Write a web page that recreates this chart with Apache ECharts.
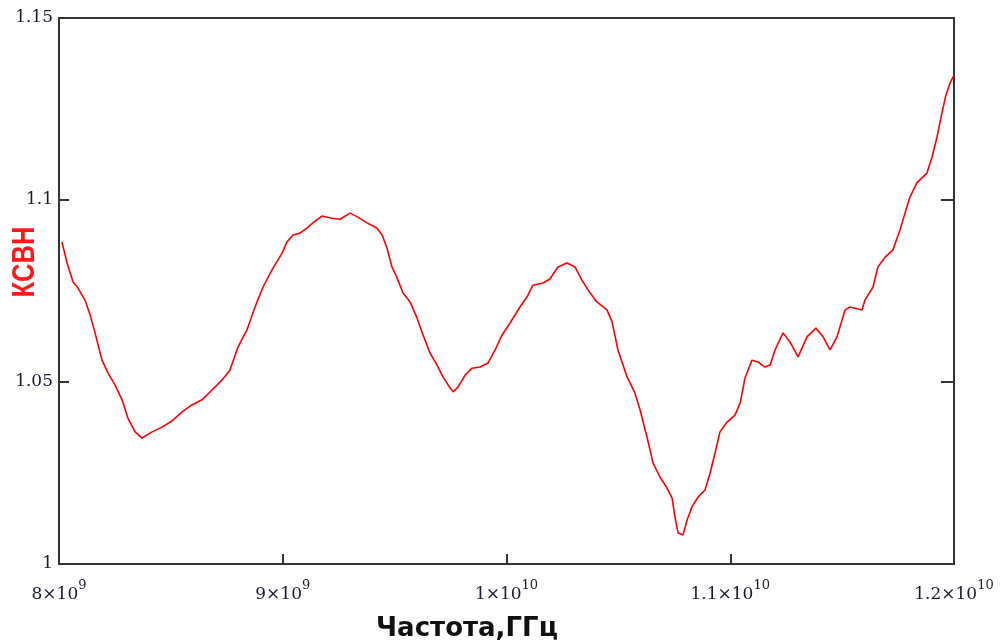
<!DOCTYPE html>
<html>
<head>
<meta charset="utf-8">
<script src="https://cdn.jsdelivr.net/npm/echarts@6/dist/echarts.min.js"></script>
<style>
  html, body { margin: 0; padding: 0; background: #fff; }
  #chart { width: 1006px; height: 643px; }
</style>
</head>
<body>
<div id="chart"></div>
<script>
// частота, ГГц
var freqGHz = [
  8.013, 8.036, 8.063, 8.085, 8.116, 8.139, 8.161, 8.192, 8.219, 8.250,
  8.282, 8.308, 8.340, 8.371, 8.416, 8.460, 8.505, 8.550, 8.594, 8.639,
  8.684, 8.728, 8.764, 8.800, 8.840, 8.876, 8.912, 8.952, 8.997, 9.019,
  9.046, 9.077, 9.108, 9.135, 9.175, 9.220, 9.256, 9.301, 9.336, 9.377,
  9.421, 9.444, 9.466, 9.488, 9.511, 9.537, 9.569, 9.600, 9.627, 9.658,
  9.689, 9.716, 9.739, 9.761, 9.783, 9.815, 9.846, 9.882, 9.917, 9.949,
  9.980, 10.016, 10.060, 10.092, 10.118, 10.163, 10.194, 10.230, 10.270, 10.306,
  10.337, 10.373, 10.404, 10.449, 10.472, 10.498, 10.539, 10.574, 10.597, 10.628,
  10.655, 10.686, 10.717, 10.740, 10.753, 10.767, 10.789, 10.807, 10.829, 10.856,
  10.887, 10.910, 10.932, 10.954, 10.986, 11.021, 11.044, 11.066, 11.097, 11.124,
  11.155, 11.178, 11.200, 11.236, 11.267, 11.303, 11.343, 11.383, 11.415, 11.446,
  11.477, 11.513, 11.535, 11.589, 11.602, 11.638, 11.660, 11.692, 11.727, 11.759,
  11.781, 11.803, 11.834, 11.879, 11.902, 11.924, 11.946, 11.964, 11.982, 12.000
];
// КСВН
var vswr = [
  1.0885, 1.0827, 1.0775, 1.0758, 1.0725, 1.0684, 1.0635, 1.0560, 1.0525, 1.0492,
  1.0451, 1.0401, 1.0363, 1.0346, 1.0363, 1.0376, 1.0393, 1.0418, 1.0437, 1.0451,
  1.0478, 1.0505, 1.0533, 1.0596, 1.0643, 1.0706, 1.0761, 1.0808, 1.0854, 1.0885,
  1.0904, 1.0909, 1.0923, 1.0937, 1.0956, 1.0950, 1.0947, 1.0964, 1.0953, 1.0937,
  1.0923, 1.0904, 1.0868, 1.0816, 1.0786, 1.0745, 1.0720, 1.0676, 1.0629, 1.0580,
  1.0547, 1.0514, 1.0492, 1.0473, 1.0486, 1.0519, 1.0538, 1.0541, 1.0552, 1.0588,
  1.0629, 1.0662, 1.0706, 1.0734, 1.0766, 1.0772, 1.0783, 1.0816, 1.0827, 1.0816,
  1.0780, 1.0745, 1.0720, 1.0698, 1.0665, 1.0588, 1.0514, 1.0470, 1.0423, 1.0349,
  1.0277, 1.0239, 1.0209, 1.0181, 1.0129, 1.0085, 1.0080, 1.0121, 1.0157, 1.0184,
  1.0203, 1.0250, 1.0305, 1.0363, 1.0390, 1.0409, 1.0442, 1.0511, 1.0560, 1.0555,
  1.0541, 1.0547, 1.0588, 1.0635, 1.0610, 1.0569, 1.0624, 1.0648, 1.0624, 1.0588,
  1.0624, 1.0698, 1.0706, 1.0698, 1.0725, 1.0761, 1.0816, 1.0843, 1.0863, 1.0918,
  1.0964, 1.1008, 1.1047, 1.1074, 1.1118, 1.1173, 1.1239, 1.1288, 1.1321, 1.1343
];

// подписи осей
var xTickBase = ['8×10', '9×10', '1×10', '1.1×10', '1.2×10'];
var xTickExp = ['9', '9', '10', '10', '10'];
var yTickLabels = ['1', '1.05', '1.1', '1.15'];

var axisColor = '#333333';
var labelColor = '#1a1a2e';
var labelFont = '"DejaVu Serif", "Liberation Serif", serif';

var myChart = echarts.init(document.getElementById('chart'));

var option = {
    animation: false,
    backgroundColor: '#ffffff',
    grid: { left: 59, right: 52, top: 18, bottom: 79 },
    xAxis: [{
        type: 'value',
        position: 'bottom',
        min: 8, max: 12, interval: 1,
        axisLine: { onZero: false, lineStyle: { color: axisColor, width: 2 } },
        axisTick: { inside: true, length: 10, lineStyle: { color: axisColor, width: 2 } },
        splitLine: { show: false },
        axisLabel: {
            margin: 15,
            formatter: function (v, i) {
                return '{b|' + xTickBase[i] + '}{s|' + xTickExp[i] + '}';
            },
            rich: {
                b: { fontFamily: labelFont, fontSize: 17, color: labelColor, lineHeight: 24, verticalAlign: 'bottom' },
                s: { fontFamily: labelFont, fontSize: 13, color: labelColor, lineHeight: 24, verticalAlign: 'top' }
            }
        }
    }, {
        type: 'value',
        position: 'top',
        min: 8, max: 12, interval: 1,
        axisLine: { onZero: false, lineStyle: { color: axisColor, width: 2 } },
        axisTick: { show: false },
        axisLabel: { show: false },
        splitLine: { show: false }
    }],
    yAxis: [{
        type: 'value',
        position: 'left',
        min: 1, max: 1.15, interval: 0.05,
        axisLine: { onZero: false, lineStyle: { color: axisColor, width: 2 } },
        axisTick: { inside: true, length: 10, lineStyle: { color: axisColor, width: 2 } },
        splitLine: { show: false },
        axisLabel: {
            margin: 6,
            fontFamily: labelFont,
            fontSize: 17,
            color: labelColor,
            padding: [5, 0, 0, 0],
            formatter: function (v, i) { return yTickLabels[i]; }
        }
    }, {
        type: 'value',
        position: 'right',
        min: 1, max: 1.15, interval: 0.05,
        axisLine: { onZero: false, lineStyle: { color: axisColor, width: 2 } },
        axisTick: { inside: true, length: 13, lineStyle: { color: axisColor, width: 2 } },
        axisLabel: { show: false },
        splitLine: { show: false }
    }],
    graphic: [{
        type: 'text',
        x: 25, y: 262,
        rotation: Math.PI / 2,
        scaleX: 0.8,
        style: {
            text: 'КСВН',
            fill: '#ff1a1a',
            font: 'bold 32px "Liberation Sans", sans-serif',
            textAlign: 'center',
            textVerticalAlign: 'middle'
        }
    }, {
        type: 'text',
        x: 467, y: 629,
        style: {
            text: 'Частота,ГГц',
            fill: '#111111',
            font: 'bold 26px "DejaVu Sans", sans-serif',
            textAlign: 'center',
            textVerticalAlign: 'middle'
        }
    }],
    series: [{
        type: 'line',
        xAxisIndex: 0,
        yAxisIndex: 0,
        showSymbol: false,
        data: freqGHz.map(function (f, i) { return [f, vswr[i]]; }),
        lineStyle: { color: '#ff0000', width: 1.6 }
    }]
};

myChart.setOption(option);
</script>
</body>
</html>
